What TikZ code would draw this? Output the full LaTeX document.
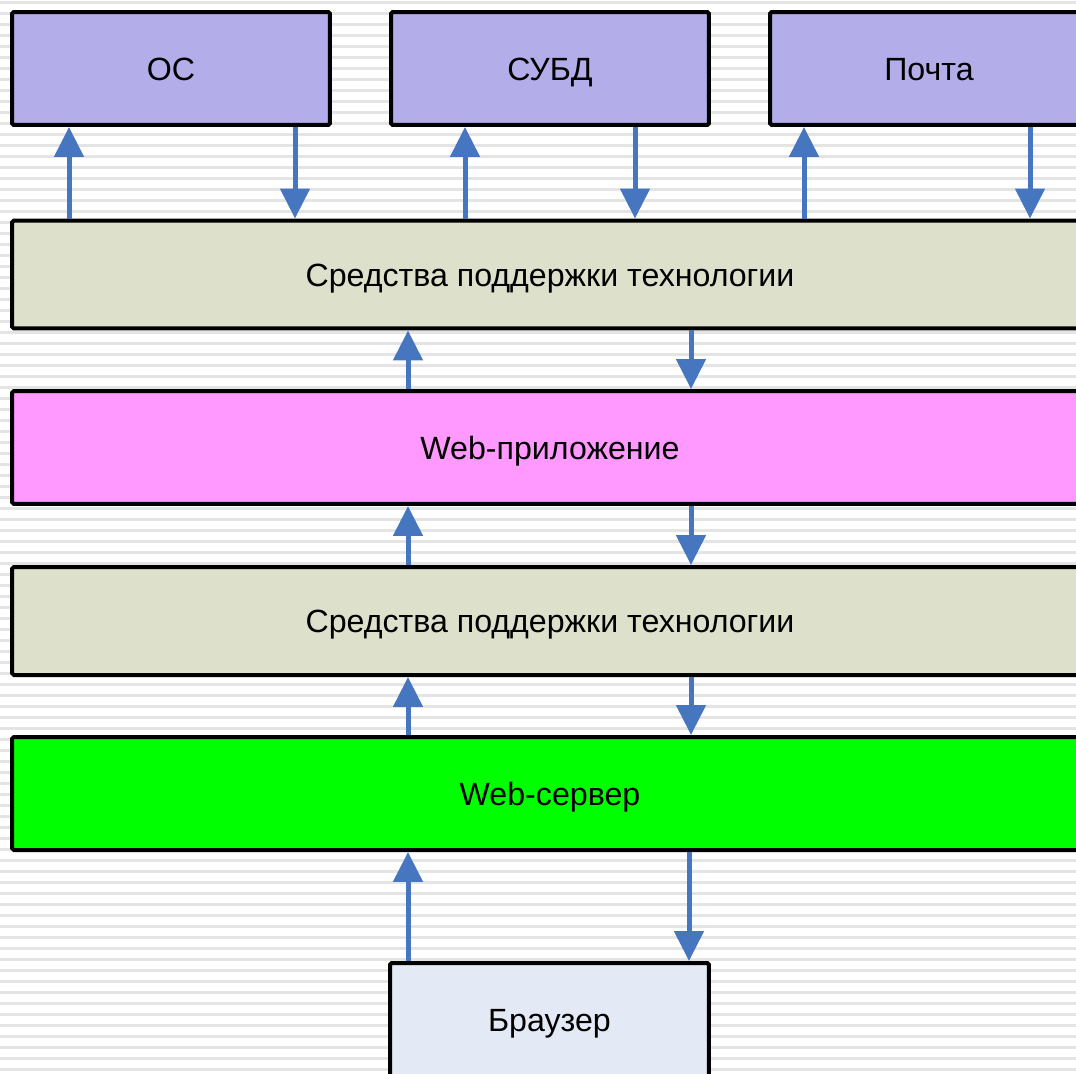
\documentclass[tikz,border=0pt]{standalone}
\usepackage{fontspec}
\setmainfont{Liberation Sans}
\usetikzlibrary{arrows.meta}
\definecolor{sysblue}{RGB}{179,174,234}
\definecolor{techgray}{RGB}{221,224,203}
\definecolor{apppink}{RGB}{255,153,255}
\definecolor{srvgreen}{RGB}{0,255,0}
\definecolor{brblue}{RGB}{228,234,245}
\definecolor{flowblue}{RGB}{71,118,193}
\definecolor{stripe}{RGB}{228,228,228}
\tikzset{box/.style={draw=black,line width=0.08cm,rounded corners=1pt,inner sep=0pt,
    font=\fontsize{18.3}{22}\selectfont,text height=13.1pt,text depth=0pt}}

\begin{document}
\begin{tikzpicture}[x=0.02cm,y=-0.02cm]
    \tikzstyle{sysbox}=[box,fill=sysblue,minimum width=6.36cm,minimum height=2.26cm]
    \tikzstyle{layer}=[box,minimum width=21.52cm,minimum height=2.16cm]
    \tikzstyle{flow}=[draw=flowblue,line width=0.1cm,-{Triangle[width=0.58cm,length=0.6cm]}]
    \useasboundingbox (0,0) rectangle (1076,1073);
    \clip (0,0) rectangle (1076,1073);
    \fill[white] (0,0) rectangle (1076,1073);
    \foreach \k in {0,...,97}
        \fill[stripe] (0,1+11*\k) rectangle (1076,3.5+11*\k);

    \node[sysbox] (OS)   at (171,68.5) {ОС};
    \node[sysbox] (DB)   at (550,68.5) {СУБД};
    \node[sysbox] (Mail) at (929,68.5) {Почта};

    \node[layer,fill=techgray] (T1)  at (550,274.5) {Средства поддержки технологии};
    \node[layer,fill=apppink,minimum height=2.26cm] (App) at (550,447.5) {Web-приложение};
    \node[layer,fill=techgray] (T2)  at (550,621) {Средства поддержки технологии};
    \node[layer,fill=srvgreen,minimum height=2.26cm] (Srv) at (550,793.5) {Web-сервер};
    \node[box,fill=brblue,minimum width=6.38cm,minimum height=2.28cm] (Br) at (549.5,1020) {Браузер};

    \draw[flow] (T1.north -| 69,0)   -- (OS.south -| 69,0);
    \draw[flow] (OS.south -| 295,0)  -- (T1.north -| 295,0);
    \draw[flow] (T1.north -| 465,0)  -- (DB.south -| 465,0);
    \draw[flow] (DB.south -| 635,0)  -- (T1.north -| 635,0);
    \draw[flow] (T1.north -| 804,0)  -- (Mail.south -| 804,0);
    \draw[flow] (Mail.south -| 1030,0) -- (T1.north -| 1030,0);

    \draw[flow] (App.north -| 408,0) -- (T1.south -| 408,0);
    \draw[flow] (T1.south -| 691,0)  -- (App.north -| 691,0);
    \draw[flow] (T2.north -| 408,0)  -- (App.south -| 408,0);
    \draw[flow] (App.south -| 691,0) -- (T2.north -| 691,0);
    \draw[flow] (Srv.north -| 408,0) -- (T2.south -| 408,0);
    \draw[flow] (T2.south -| 691,0)  -- (Srv.north -| 691,0);
    \draw[flow] (Br.north -| 408,0)  -- (Srv.south -| 408,0);
    \draw[flow] (Srv.south -| 689,0) -- (Br.north -| 689,0);
\end{tikzpicture}
\end{document}
